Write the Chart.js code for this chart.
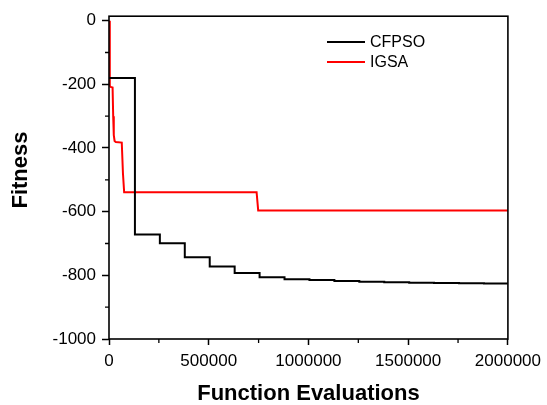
<!DOCTYPE html>
<html>
<head>
<meta charset="utf-8">
<script src="https://cdn.jsdelivr.net/npm/chart.js@4/dist/chart.umd.min.js"></script>
<style>
  html, body { margin: 0; padding: 0; background: #fff; }
  #wrap { width: 547px; height: 405px; }
</style>
</head>
<body>
<div id="wrap"><canvas id="c" width="547" height="405"></canvas></div>
<script>
// Convergence curves: best fitness vs. number of function evaluations
const seriesNames = ['CFPSO', 'IGSA'];

// CFPSO improves in discrete steps (value holds until the next evaluation count)
const cfpsoEvals = [0, 130000, 255000, 380000, 505000, 630000, 755000, 880000, 1005000,
  1130000, 1255000, 1380000, 1505000, 1630000, 1755000, 1880000, 2000000];
const cfpsoFitness = [-180, -672, -699, -743, -772, -793, -806, -812, -815,
  -818, -820, -822, -823, -824, -825, -826, -826];

// IGSA
const igsaEvals = [0, 3000, 5000, 8000, 18000, 21000, 24000, 28000, 34000,
  64000, 70000, 76000, 740000, 748000, 2000000];
const igsaFitness = [0, -195, -205, -208, -210, -300, -360, -378, -381,
  -383, -480, -539, -539, -596, -596];

// Axis ticks
const xMajorTicks = [0, 500000, 1000000, 1500000, 2000000];
const xMinorTicks = [250000, 750000, 1250000, 1750000];
const yMajorTicks = [-1000, -800, -600, -400, -200, 0];
const yMinorTicks = [-900, -700, -500, -300, -100];

const xTitle = 'Function Evaluations';
const yTitle = 'Fitness';

const FONT = '"Liberation Sans", Arial, Helvetica, sans-serif';

function toPoints(xs, ys) {
  return xs.map((x, i) => ({ x: x, y: ys[i] }));
}

// Box frame, minor ticks, axis titles and in-plot legend
const decorations = {
  id: 'decorations',
  afterDraw(chart) {
    const ctx = chart.ctx;
    const a = chart.chartArea;
    const xs = chart.scales.x, ys = chart.scales.y;
    ctx.save();
    ctx.strokeStyle = '#000';
    ctx.lineWidth = 1.6;
    ctx.strokeRect(a.left, a.top, a.right - a.left, a.bottom - a.top);

    ctx.lineWidth = 1.3;
    ctx.beginPath();
    xMinorTicks.forEach(v => {
      const px = xs.getPixelForValue(v);
      ctx.moveTo(px, a.bottom);
      ctx.lineTo(px, a.bottom + 4);
    });
    yMinorTicks.forEach(v => {
      const py = ys.getPixelForValue(v);
      ctx.moveTo(a.left, py);
      ctx.lineTo(a.left - 4, py);
    });
    ctx.stroke();

    // axis titles
    ctx.fillStyle = '#000';
    ctx.font = 'bold 22px ' + FONT;
    ctx.textAlign = 'center';
    ctx.textBaseline = 'middle';
    ctx.fillText(xTitle, (a.left + a.right) / 2, 394);
    ctx.save();
    ctx.translate(21, 170);
    ctx.rotate(-Math.PI / 2);
    ctx.fillText(yTitle, 0, 0);
    ctx.restore();

    // legend
    ctx.font = '16px ' + FONT;
    ctx.textAlign = 'left';
    chart.data.datasets.forEach((ds, i) => {
      const y = 42 + i * 20;
      ctx.strokeStyle = ds.borderColor;
      ctx.lineWidth = 2;
      ctx.beginPath();
      ctx.moveTo(327, y);
      ctx.lineTo(365, y);
      ctx.stroke();
      ctx.fillStyle = '#000';
      ctx.fillText(ds.label, 370, y + 1);
    });
    ctx.restore();
  }
};

new Chart(document.getElementById('c'), {
  type: 'scatter',
  data: {
    datasets: [
      {
        label: seriesNames[0],
        data: toPoints(cfpsoEvals, cfpsoFitness),
        showLine: true,
        stepped: 'before',
        borderColor: '#000000',
        borderWidth: 2,
        pointRadius: 0,
        fill: false
      },
      {
        label: seriesNames[1],
        data: toPoints(igsaEvals, igsaFitness),
        showLine: true,
        borderColor: '#ff0000',
        borderWidth: 2,
        pointRadius: 0,
        tension: 0,
        fill: false
      }
    ]
  },
  options: {
    responsive: false,
    animation: false,
    layout: { padding: { left: 0, right: 38, top: 15, bottom: 0 } },
    plugins: {
      legend: { display: false },
      tooltip: { enabled: false }
    },
    scales: {
      x: {
        type: 'linear',
        min: 0,
        max: 2000000,
        afterFit: s => { s.height = 66; },
        afterBuildTicks: s => { s.ticks = xMajorTicks.map(v => ({ value: v })); },
        grid: { drawOnChartArea: false, tickLength: 6, tickWidth: 1.5, tickColor: '#000' },
        border: { display: false },
        ticks: {
          color: '#000',
          font: { family: FONT, size: 17 },
          padding: 6,
          maxRotation: 0,
          callback: v => String(v)
        }
      },
      y: {
        type: 'linear',
        min: -1000,
        max: 14,
        afterFit: s => { s.width = 109; },
        afterBuildTicks: s => { s.ticks = yMajorTicks.map(v => ({ value: v })); },
        grid: { drawOnChartArea: false, tickLength: 7, tickWidth: 1.5, tickColor: '#000' },
        border: { display: false },
        ticks: {
          color: '#000',
          font: { family: FONT, size: 17 },
          padding: 6,
          callback: v => String(v)
        }
      }
    }
  },
  plugins: [decorations]
});
</script>
</body>
</html>
